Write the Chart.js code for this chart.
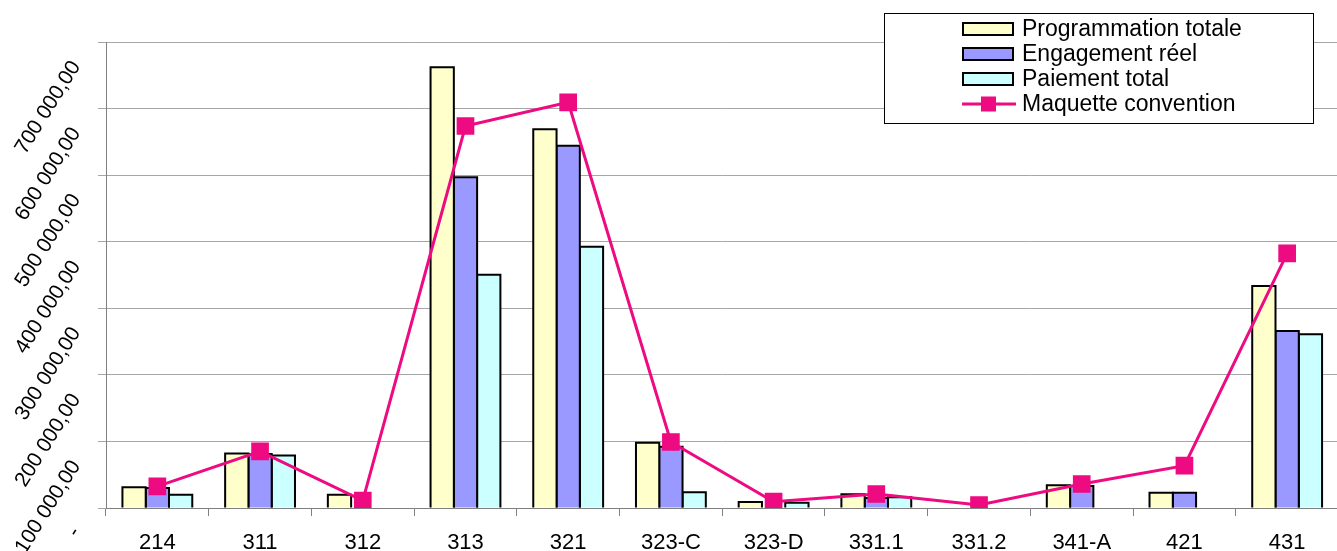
<!DOCTYPE html>
<html>
<head>
<meta charset="utf-8">
<script src="https://cdn.jsdelivr.net/npm/chart.js@4/dist/chart.umd.min.js"></script>
<style>
    html, body { margin: 0; padding: 0; background: #fff; overflow: hidden; }
    #wrap { position: absolute; left: 0; top: 0; width: 1351px; height: 551px; }
</style>
</head>
<body>
<div id="wrap"><canvas id="grafico" width="1351" height="551"></canvas></div>
<script>
/* ================================
      DONNÉES
================================ */
const categories = ["214", "311", "312", "313", "321", "323-C", "323-D", "331.1", "331.2", "341-A", "421", "431"];

const programmation = [31000, 82000, 20000, 662000, 569000, 98000, 9000, 20500, 0, 34000, 23000, 333500];
const engagement    = [30000, 81000, 0, 497000, 544000, 92000, 0, 15000, 0, 33000, 23000, 266000];
const paiement      = [20000, 79000, 0, 350500, 392500, 23500, 8000, 16000, 0, 0, 0, 261000];
const maquette      = [32600, 85000, 11000, 573800, 609400, 99100, 9500, 21000, 4500, 36000, 63600, 382600];

const nomsSeries = ["Programmation totale", "Engagement réel", "Paiement total", "Maquette convention"];

const yMax = 700000;
const yPas = 100000;

const police = "'Liberation Sans', Arial, sans-serif";

function formatMontant(v) {
    if (v === 0) return "-";
    return Math.round(v).toString().replace(/\B(?=(\d{3})+(?!\d))/g, " ") + ",00";
}

/* ================================
      CONTOURS DES BARRES (trait centré, façon Excel)
================================ */
const contourBarres = {
    id: "contourBarres",
    afterDatasetDraw(chart, args) {
        const meta = args.meta;
        if (meta.type !== "bar") return;
        const ctx = chart.ctx;
        ctx.save();
        ctx.strokeStyle = "#000";
        ctx.lineWidth = 2;
        ctx.lineJoin = "miter";
        meta.data.forEach((bar, i) => {
            const v = chart.data.datasets[args.index].data[i];
            if (!v) return;
            const g = bar.x - bar.width / 2;
            const d = bar.x + bar.width / 2;
            ctx.beginPath();
            ctx.moveTo(g, bar.base);
            ctx.lineTo(g, bar.y);
            ctx.lineTo(d, bar.y);
            ctx.lineTo(d, bar.base);
            ctx.stroke();
        });
        ctx.restore();
    }
};

/* ================================
      LÉGENDE (encadrée, flottante)
================================ */
const legendeEncadree = {
    id: "legendeEncadree",
    afterDraw(chart) {
        const ctx = chart.ctx;
        const x0 = 884, y0 = 13, w = 429, h = 110;
        ctx.save();
        ctx.fillStyle = "#fff";
        ctx.fillRect(x0, y0, w, h);
        ctx.strokeStyle = "#000";
        ctx.lineWidth = 1;
        ctx.strokeRect(x0 + 0.5, y0 + 0.5, w, h);

        ctx.font = "23px " + police;
        ctx.textBaseline = "middle";
        ctx.textAlign = "left";

        chart.data.datasets.forEach((ds, i) => {
            const yc = 29 + i * 25;
            if (ds.type === "line") {
                ctx.strokeStyle = ds.borderColor;
                ctx.lineWidth = 3;
                ctx.beginPath();
                ctx.moveTo(962, yc);
                ctx.lineTo(1016, yc);
                ctx.stroke();
                ctx.fillStyle = ds.borderColor;
                ctx.fillRect(981, yc - 7.5, 15, 15);
            } else {
                ctx.fillStyle = ds.backgroundColor;
                ctx.fillRect(963, yc - 6, 50, 12);
                ctx.strokeStyle = "#000";
                ctx.lineWidth = 2;
                ctx.strokeRect(963, yc - 6, 50, 12);
            }
            ctx.fillStyle = "#000";
            ctx.fillText(ds.label, 1022, yc + 1);
        });
        ctx.restore();
    }
};

/* ================================
      GRAPHIQUE
================================ */
const ctx = document.getElementById("grafico");

new Chart(ctx, {
    type: "bar",
    data: {
        labels: categories,
        datasets: [
            {
                label: nomsSeries[0],
                data: programmation,
                backgroundColor: "#FFFFCC",
                borderWidth: 0,
                order: 1
            },
            {
                label: nomsSeries[1],
                data: engagement,
                backgroundColor: "#9999FF",
                borderWidth: 0,
                order: 1
            },
            {
                label: nomsSeries[2],
                data: paiement,
                backgroundColor: "#CCFFFF",
                borderWidth: 0,
                order: 1
            },
            {
                type: "line",
                label: nomsSeries[3],
                data: maquette,
                borderColor: "#EE0A80",
                backgroundColor: "#EE0A80",
                borderWidth: 3,
                pointStyle: "rect",
                pointRadius: 12.5,
                pointHoverRadius: 12.5,
                pointBackgroundColor: "#EE0A80",
                pointBorderWidth: 0,
                tension: 0,
                order: 0
            }
        ]
    },
    options: {
        responsive: false,
        animation: false,
        layout: { padding: { top: 42, left: 0, right: 0, bottom: 0 } },
        datasets: {
            bar: { categoryPercentage: 0.68, barPercentage: 1.0 }
        },
        plugins: {
            legend: { display: false },
            tooltip: { enabled: false }
        },
        scales: {
            x: {
                afterFit(scale) { scale.height = 43; },
                grid: {
                    drawOnChartArea: false,
                    drawTicks: true,
                    tickLength: 8,
                    tickColor: "#808080",
                    offset: true
                },
                border: { color: "#808080", width: 1 },
                ticks: {
                    color: "#000",
                    padding: 14,
                    font: { family: police, size: 22 }
                }
            },
            y: {
                min: 0,
                max: yMax,
                afterFit(scale) { scale.width = 106; },
                grid: {
                    color: "#a6a6a6",
                    tickColor: "#a6a6a6",
                    tickLength: 8
                },
                border: { color: "#808080", width: 1 },
                ticks: {
                    stepSize: yPas,
                    color: "#000",
                    padding: 22,
                    minRotation: 58,
                    maxRotation: 58,
                    labelOffset: 21,
                    font: { family: police, size: 21 },
                    callback: (v) => formatMontant(v)
                }
            }
        }
    },
    plugins: [contourBarres, legendeEncadree]
});
</script>
</body>
</html>
